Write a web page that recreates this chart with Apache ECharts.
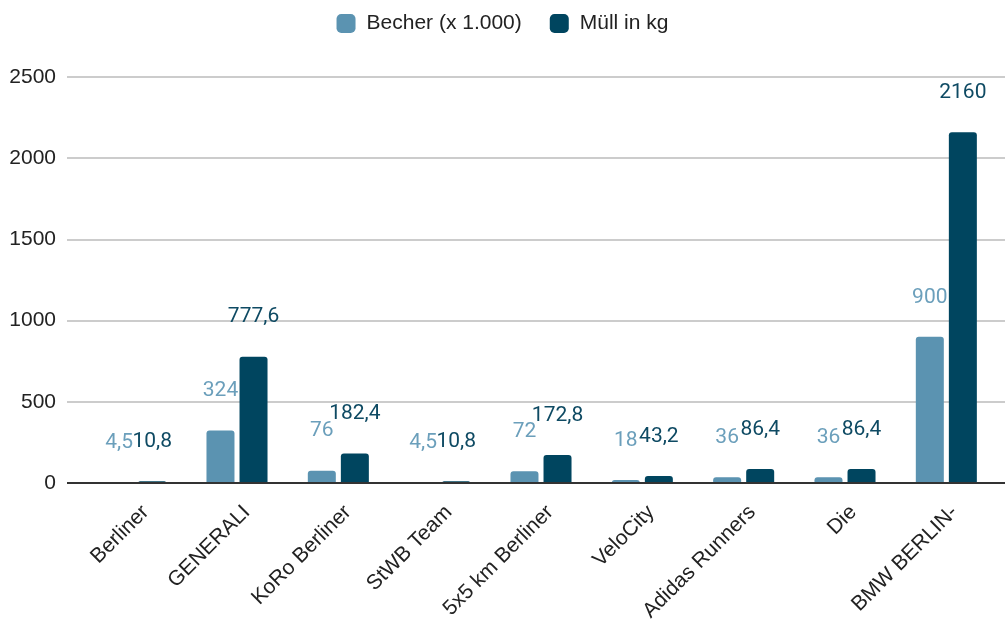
<!DOCTYPE html>
<html><head><meta charset="utf-8">
<script src="https://cdn.jsdelivr.net/npm/echarts@6/dist/echarts.min.js"></script>
<style>html,body{margin:0;padding:0;background:#fff}#c{width:1005px;height:644px}</style>
</head><body><div id="c"></div>
<script>
const categories = ['Berliner','GENERALI','KoRo Berliner','StWB Team','5x5 km Berliner','VeloCity','Adidas Runners','Die','BMW BERLIN-'];
const becher = [4.5, 324, 76, 4.5, 72, 18, 36, 36, 900];
const muell = [10.8, 777.6, 182.4, 10.8, 172.8, 43.2, 86.4, 86.4, 2160];
const seriesNames = ['Becher (x 1.000)', 'Müll in kg'];
const yTicks = {min: 0, max: 2500, interval: 500};

const fmt = p => String(p.value).replace('.', ',');
const chart = echarts.init(document.getElementById('c'));
chart.setOption({
  animation: false,
  legend: {
    top: 8, left: 'center', itemWidth: 19, itemHeight: 19, itemGap: 28,
    icon: 'roundRect',
    textStyle: {fontFamily: 'Liberation Sans', fontSize: 21, color: '#222', padding: [0,0,0,6]},
    data: seriesNames
  },
  grid: [
    {left: 67, right: 0, top: 77, bottom: 161},
    {left: 85, right: 8, top: 77, bottom: 161},
    {left: 95, right: -2, top: 77, bottom: 161}
  ],
  xAxis: [
    {gridIndex: 0, type: 'value', min: 0, max: 1, show: false},
    {gridIndex: 1, type: 'category', data: categories,
     axisLine: {show: false}, axisTick: {show: false}, axisLabel: {show: false}},
    {gridIndex: 2, type: 'category', data: categories,
     axisLine: {show: false}, axisTick: {show: false},
     axisLabel: {rotate: 45, margin: 26, fontFamily: 'Liberation Sans', fontSize: 21, color: '#222', interval: 0}}
  ],
  yAxis: [
    {gridIndex: 0, type: 'value', min: yTicks.min, max: yTicks.max, interval: yTicks.interval,
     axisLine: {show: false}, axisTick: {show: false},
     splitLine: {lineStyle: {color: '#cccccc', width: 2}},
     axisLabel: {margin: 11, fontFamily: 'Liberation Sans', fontSize: 21, color: '#222', formatter: v => String(v)}},
    {gridIndex: 1, type: 'value', min: yTicks.min, max: yTicks.max, interval: yTicks.interval, show: false,
     splitLine: {show: false}},
    {gridIndex: 2, type: 'value', min: yTicks.min, max: yTicks.max, interval: yTicks.interval, show: false,
     splitLine: {show: false}}
  ],
  series: [
    {name: seriesNames[0], type: 'bar', xAxisIndex: 1, yAxisIndex: 1, data: becher,
     barWidth: 28, barGap: '18%',
     itemStyle: {color: '#5b93b1', borderRadius: [3,3,0,0]},
     label: {show: true, position: 'top', distance: 29, formatter: fmt,
       fontFamily: 'Roboto', fontSize: 21, color: '#6b9fbb'}},
    {name: seriesNames[1], type: 'bar', xAxisIndex: 1, yAxisIndex: 1, data: muell,
     barWidth: 28,
     itemStyle: {color: '#00455f', borderRadius: [3,3,0,0]},
     label: {show: true, position: 'top', distance: 29, formatter: fmt,
       fontFamily: 'Roboto', fontSize: 21, color: '#0e4a63'}},
    {type: 'line', xAxisIndex: 0, yAxisIndex: 0, data: [[0,0],[1,0]], symbol: 'none', silent: true,
     lineStyle: {color: '#333', width: 2}, z: 10}
  ]
});
</script></body></html>
